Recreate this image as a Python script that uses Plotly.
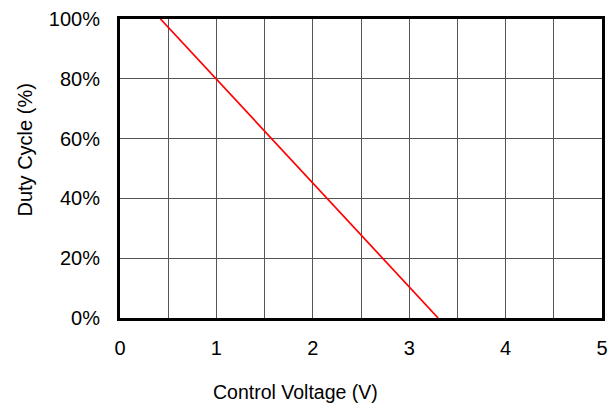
import plotly.graph_objects as go

# Duty cycle vs. control voltage (linear transfer)
voltage = [0.42, 3.30]
duty = [1.00, 0.00]

x_ticks = [0, 1, 2, 3, 4, 5]
y_ticks = [0, 0.2, 0.4, 0.6, 0.8, 1.0]
y_labels = ["0%", "20%", "40%", "60%", "80%", "100%"]

x_title = "Control Voltage (V)"
y_title = "Duty Cycle (%)"

font = dict(family="Liberation Sans, Arial, sans-serif", size=20, color="#000")

fig = go.Figure()
fig.add_trace(go.Scatter(x=voltage, y=duty, mode="lines",
                         line=dict(color="#ff0000", width=1.7),
                         showlegend=False, hoverinfo="skip"))

fig.update_layout(
    width=615, height=406,
    margin=dict(l=120, r=7, t=19, b=88),
    paper_bgcolor="white", plot_bgcolor="white",
    font=font,
    xaxis=dict(range=[0, 5], tickvals=x_ticks, ticktext=[str(v) for v in x_ticks],
               showgrid=True, gridcolor="#555", gridwidth=1,
               minor=dict(dtick=0.5, showgrid=True, gridcolor="#555", gridwidth=1),
               showline=True, linecolor="#000", linewidth=3, mirror=True,
               ticks="outside", ticklen=10, tickcolor="rgba(0,0,0,0)",
               zeroline=False),
    yaxis=dict(range=[0, 1], tickvals=y_ticks, ticktext=y_labels,
               showgrid=True, gridcolor="#555", gridwidth=1,
               showline=True, linecolor="#000", linewidth=3, mirror=True,
               ticks="outside", ticklen=13, tickcolor="rgba(0,0,0,0)",
               zeroline=False),
    annotations=[
        dict(text=x_title, xref="paper", yref="paper", x=0.364, y=-0.2475,
             xanchor="center", yanchor="middle", showarrow=False,
             font=dict(family=font["family"], size=19.5, color="#000")),
        dict(text=y_title, xref="paper", yref="paper", x=-0.198, y=0.562,
             xanchor="center", yanchor="middle", showarrow=False, textangle=-90,
             font=dict(family=font["family"], size=20, color="#000")),
    ],
)

fig.write_html("out.html")
